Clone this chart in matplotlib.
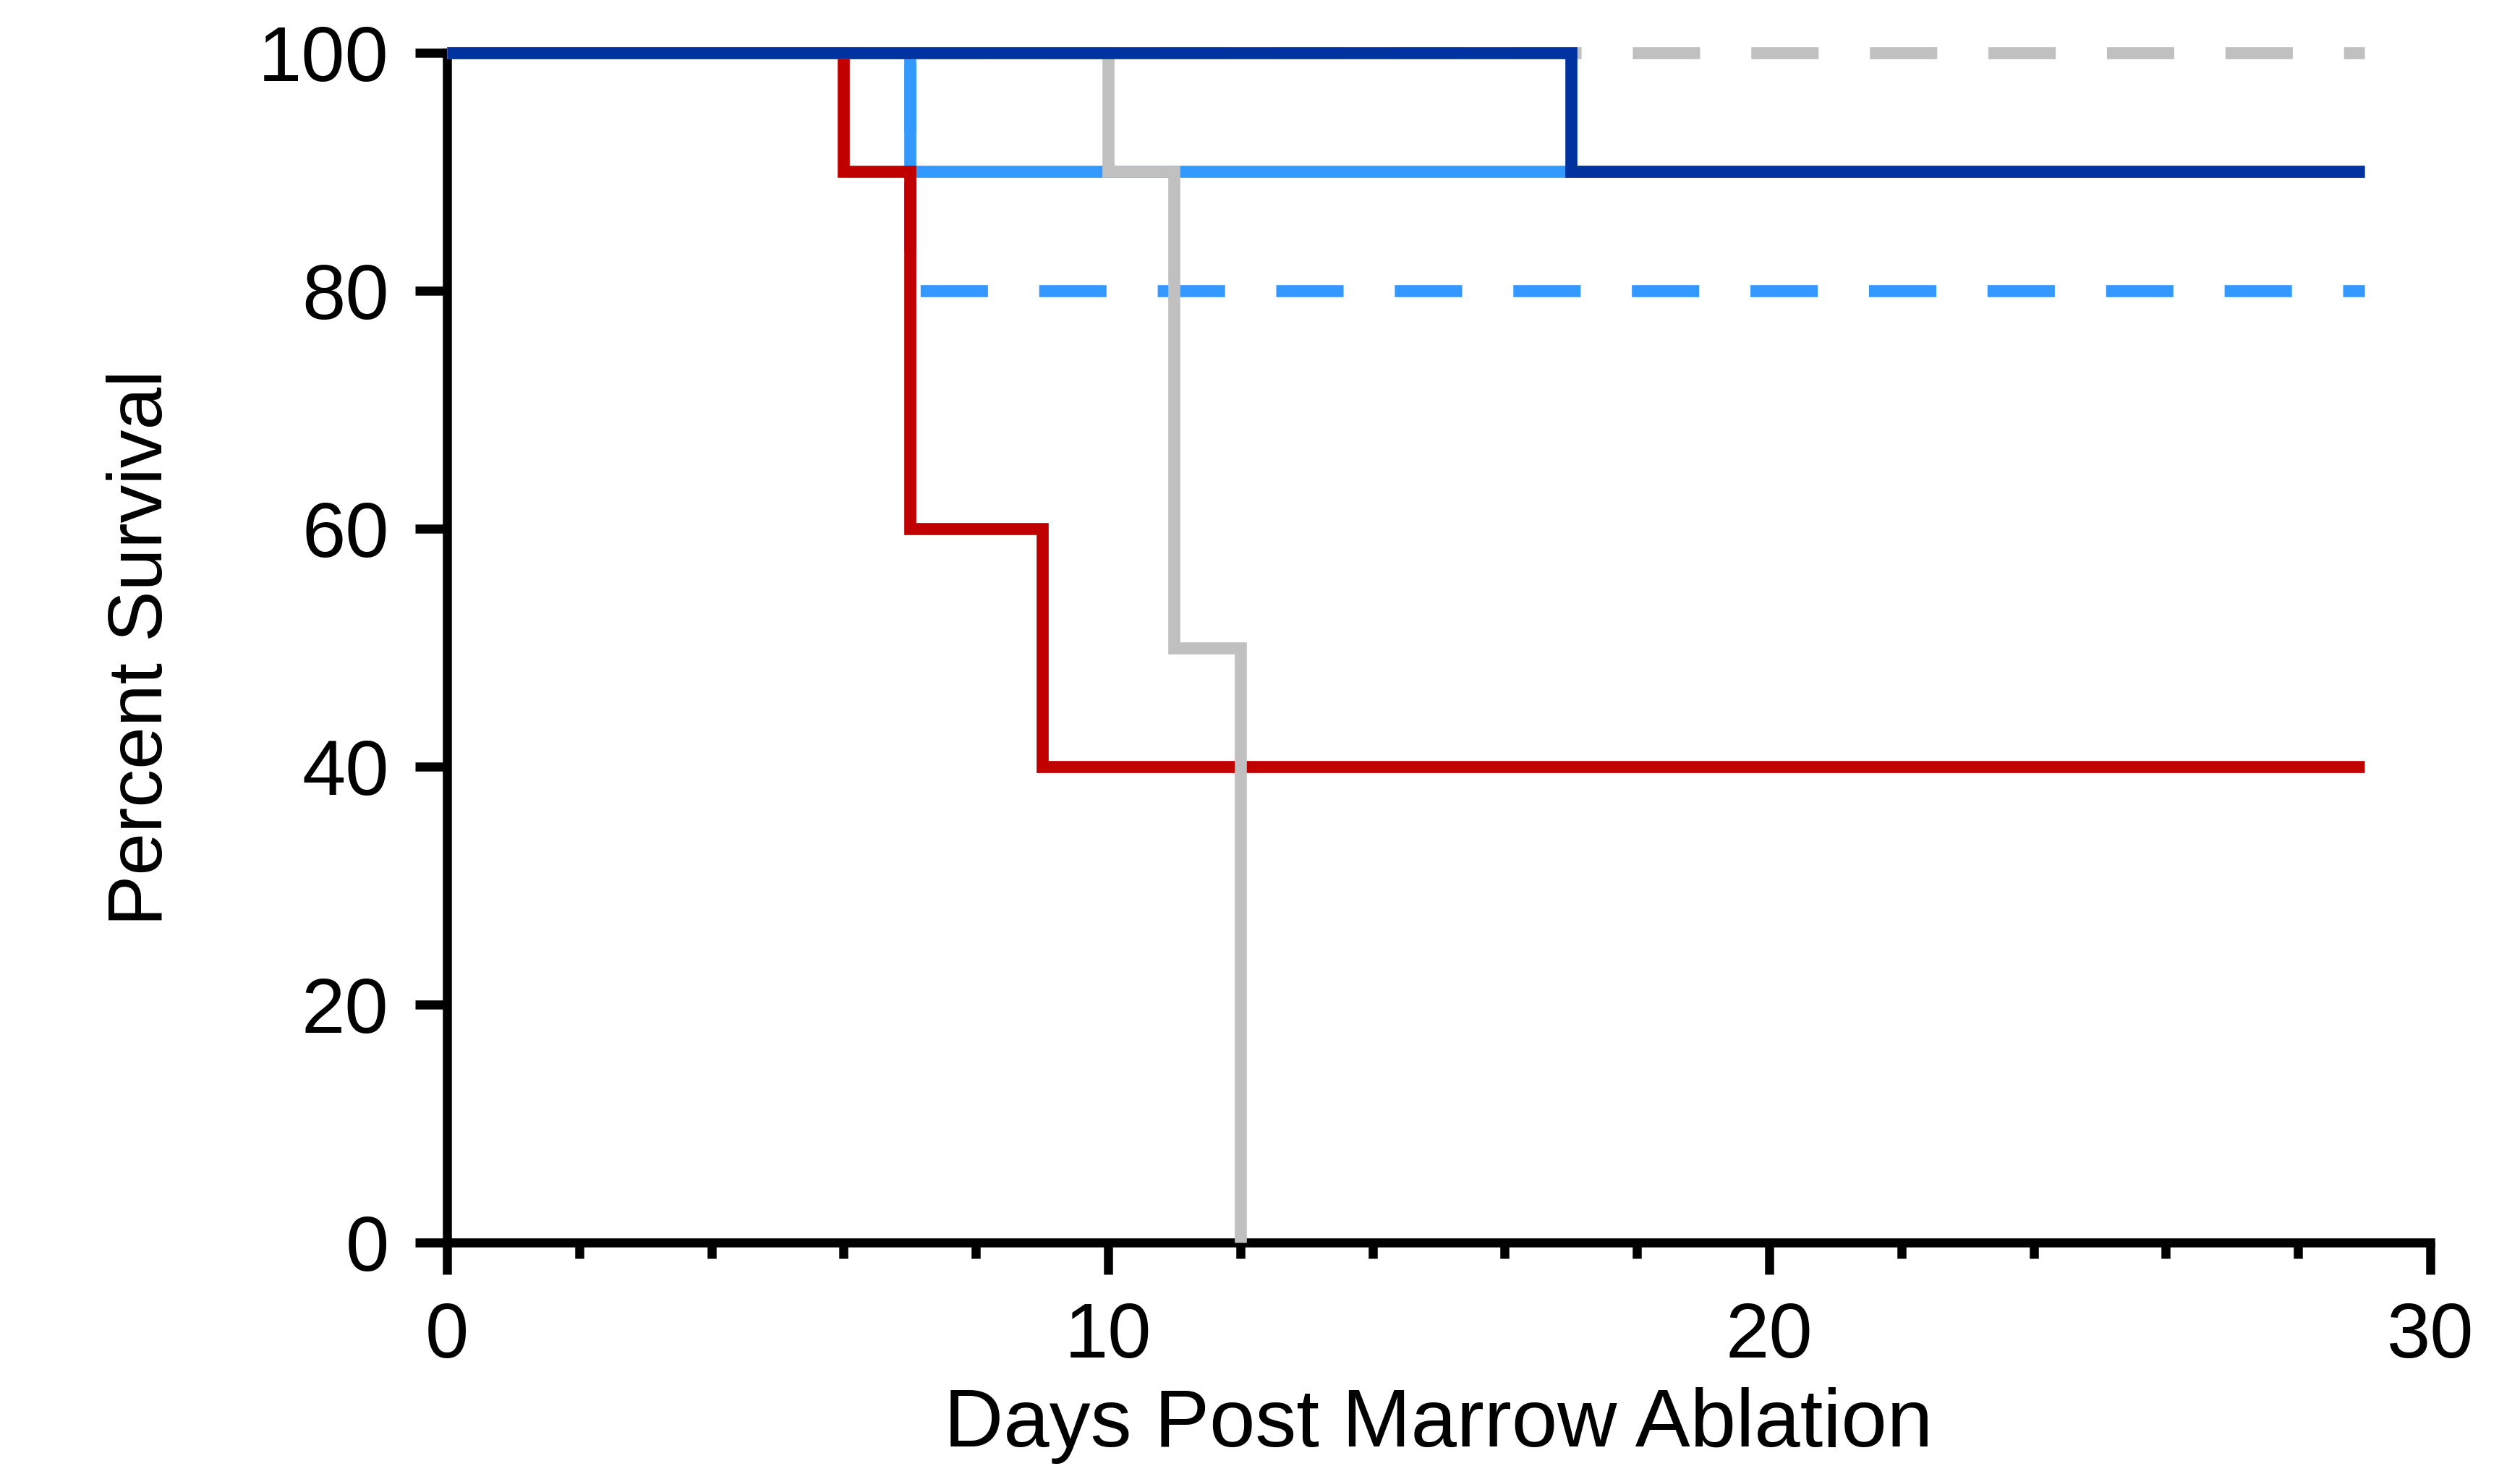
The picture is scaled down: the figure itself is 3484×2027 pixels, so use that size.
import matplotlib
matplotlib.use("Agg")
import matplotlib.pyplot as plt
from matplotlib.ticker import MultipleLocator

plt.rcParams["font.family"] = ["Liberation Sans", "DejaVu Sans"]

# Kaplan-Meier style step data (day, percent survival)
red_days = [0, 6, 7, 9, 29]
red_surv = [100, 90, 60, 40, 40]

gray_days = [0, 10, 11, 12]
gray_surv = [100, 90, 50, 0]

gray_dash_days = [0, 29]
gray_dash_surv = [100, 100]

light_days = [0, 7, 29]
light_surv = [100, 90, 90]

light_dash_days = [0, 7, 29]
light_dash_surv = [100, 80, 80]

dark_days = [0, 17, 29]
dark_surv = [100, 90, 90]

x_ticks = [0, 10, 20, 30]
y_ticks = [0, 20, 40, 60, 80, 100]

fig = plt.figure(figsize=(34.84, 20.27), dpi=100)
ax = fig.add_axes([0.1774, 0.1524, 0.9644 - 0.1774, 0.964 - 0.1524])

lw = 12
dash = (67 / lw, 51 / lw)
common = dict(where="post", lw=lw, clip_on=False,
              solid_capstyle="butt", solid_joinstyle="miter", dash_capstyle="butt")

ax.step(gray_dash_days, gray_dash_surv, color="#c0c0c0", ls="--", dashes=dash, zorder=2, **common)
ax.step(light_dash_days, light_dash_surv, color="#3399ff", ls="--", dashes=dash, zorder=3, **common)
ax.step(light_days, light_surv, color="#3399ff", zorder=4, **common)
ax.step(red_days, red_surv, color="#c00000", zorder=5, **common)
ax.step(gray_days, gray_surv, color="#c0c0c0", zorder=6, **common)
ax.step(dark_days, dark_surv, color="#0033a0", zorder=7, **common)

ax.set_xlim(0, 30)
ax.set_ylim(0, 100)
ax.set_xticks(x_ticks)
ax.set_yticks(y_ticks)
ax.xaxis.set_minor_locator(MultipleLocator(2))

for s in ["top", "right"]:
    ax.spines[s].set_visible(False)
for s in ["left", "bottom"]:
    ax.spines[s].set_linewidth(9)
    ax.spines[s].set_capstyle("projecting")

ax.tick_params(axis="both", which="major", length=32, width=9, labelsize=78, pad=26)
ax.tick_params(axis="x", which="minor", length=16, width=9)

ax.set_xlabel("Days Post Marrow Ablation", fontsize=82, labelpad=14)
ax.set_ylabel("Percent Survival", fontsize=76, labelpad=80)

fig.savefig("out.png", dpi=100)
